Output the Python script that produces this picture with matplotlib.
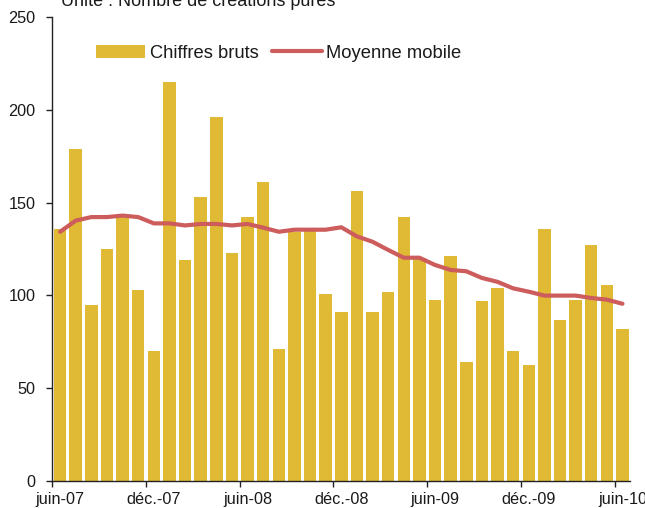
import matplotlib
matplotlib.use("Agg")
import matplotlib.pyplot as plt
import numpy as np

plt.rcParams['font.family'] = ['Liberation Sans', 'DejaVu Sans']

# Monthly data, juin-07 .. juin-10 (37 months)
chiffres_bruts = [136, 179, 95, 125, 142, 103, 70, 215, 119, 153,
                  196, 123, 142, 161, 71, 134, 135, 101, 91, 156,
                  91, 102, 142, 120, 97.5, 121, 64, 97, 104, 70,
                  62.5, 136, 87, 97.5, 127, 105.5, 82]
moyenne_mobile = [134.3, 140.3, 142.2, 142.2, 143, 142.2, 138.8, 138.8, 137.7, 138.5,
                  138.5, 137.7, 138.5, 136.5, 134.3, 135.4, 135.4, 135.4, 136.7, 131.8,
                  128.9, 124.5, 120.3, 120.3, 116.4, 113.7, 113, 109.4, 107.3, 103.8,
                  102, 99.9, 99.9, 99.9, 98.6, 97.7, 95.5]
tick_labels = ['juin-07', 'déc.-07', 'juin-08', 'déc.-08', 'juin-09', 'déc.-09', 'juin-10']
tick_every = 6
title = "Unité : Nombre de créations pures"
legend_labels = ["Chiffres bruts", "Moyenne mobile"]

W, H = 645, 508
fig = plt.figure(figsize=(W / 100, H / 100), dpi=100)
ax = fig.add_axes([52.3 / W, (H - 481) / H, (630.3 - 52.3) / W, 464 / H])

n = len(chiffres_bruts)
x = np.arange(n) + 0.5
bars = ax.bar(x, chiffres_bruts, width=0.8, color='#E0BA35', label=legend_labels[0], zorder=2)
line, = ax.plot(x, moyenne_mobile, color='#CD5C5C', lw=3, label=legend_labels[1], zorder=3,
                solid_capstyle='round')

ax.set_xlim(0, n)
ax.set_ylim(0, 250)
ax.set_yticks(np.arange(0, 251, 50))

major = np.arange(0, n, tick_every)
ax.set_xticks(major)
ax.set_xticklabels([''] * len(major))
ax.set_xticks(major + 0.5, minor=True)
ax.set_xticklabels(tick_labels, minor=True)
ax.tick_params(axis='x', which='major', direction='out', length=4, width=1, color='#222222')
ax.tick_params(axis='x', which='minor', length=0, pad=8, labelsize=11.7, labelcolor='#1a1a1a')
ax.tick_params(axis='y', direction='out', length=4, width=1, color='#222222', pad=8,
               labelsize=11.7, labelcolor='#1a1a1a')

for s in ['top', 'right']:
    ax.spines[s].set_visible(False)
for s in ['left', 'bottom']:
    ax.spines[s].set_color('#222222')
    ax.spines[s].set_linewidth(1)

fig.text(60.7 / W, 1 - 6 / H, title, fontsize=13, color='#1a1a1a', ha='left', va='baseline')

leg = ax.legend(handles=[bars, line], labels=legend_labels, loc='center left',
                bbox_to_anchor=(95.7 / W, 1 - 53 / H), bbox_transform=fig.transFigure,
                ncol=2, frameon=False, fontsize=13.2, handlelength=2.7, handletextpad=0.25,
                columnspacing=0.75, borderpad=0, borderaxespad=0)
for t in leg.get_texts():
    t.set_color('#1a1a1a')

fig.savefig('out.png', dpi=100)
